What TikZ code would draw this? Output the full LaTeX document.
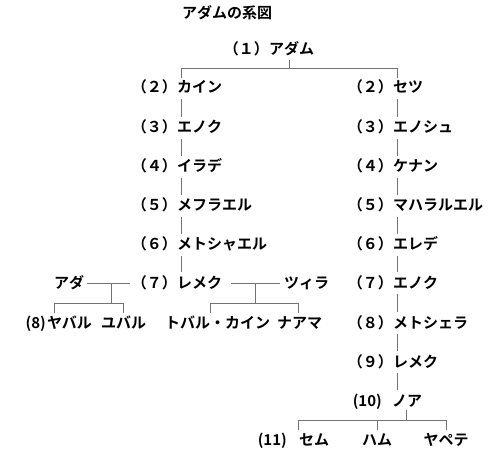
\documentclass[tikz,border=0pt]{standalone}
\usepackage{fontspec}
\newfontfamily\jpfont{Noto Sans CJK JP}[BoldFont={Noto Sans CJK JP Bold}]
\usetikzlibrary{positioning}
\tikzset{
  person/.style={font=\jpfont\bfseries\fontsize{15}{17}\selectfont,inner sep=0pt,
    text height=11pt,text depth=1pt,anchor=west},
  num/.style={person,anchor=east},
  link/.style={draw=black!55,line width=.9pt,shorten <=5pt,shorten >=5pt},
  drop/.style={draw=black!55,line width=.9pt,shorten >=4pt}
}
\begin{document}
\begin{tikzpicture}[x=1pt,y=-1pt]
\useasboundingbox (0,0) rectangle (500,470);
\node[person,anchor=center] (title) at (227,14) {アダムの系図};
% Adam
\node[person] (adam) at (269,50) {アダム};
\node[num,left=0pt of adam] {（１）};
\coordinate (colL) at (181,0);
\coordinate (colR) at (397,0);
\coordinate (t0) at (289,68);
\coordinate (t1) at (181,68);
\coordinate (t2) at (397,68);
% two columns
\foreach \i/\k/\name/\y in {2/２/カイン/88,3/３/エノク/128,4/４/イラデ/167,
    5/５/メフラエル/206,6/６/メトシャエル/245,7/７/レメク/283}{
  \node[person] (L\i) at (177,\y) {\name};
  \node[num,left=0pt of L\i] (nL\i) {（\k）};
}
\foreach \i/\k/\name/\y in {2/２/セツ/88,3/３/エノシュ/128,4/４/ケナン/167,
    5/５/マハラルエル/206,6/６/エレデ/245,7/７/エノク/283,8/８/メトシェラ/323,
    9/９/レメク/362}{
  \node[person] (R\i) at (393,\y) {\name};
  \node[num,left=0pt of R\i] {（\k）};
}
\node[person] (R10) at (392,401) {ノア};
\node[num,left=10pt of R10] {(10)};
\draw[link,shorten >=0pt,shorten <=4pt] (adam.south -| t0) -- (t0);
\draw[link,shorten <=0pt,shorten >=0pt] (t1) -- (t2);
\draw[drop] (t1) -- (L2.north -| colL);
\draw[drop] (t2) -- (R2.north -| colR);
\foreach \i in {2,...,6}{
  \pgfmathtruncatemacro\j{\i+1}
  \draw[link] (L\i.south -| colL) -- (L\j.north -| colL);
}
\foreach \i in {2,...,9}{
  \pgfmathtruncatemacro\j{\i+1}
  \draw[link] (R\i.south -| colR) -- (R\j.north -| colR);
}
% Lamech's wives and children
\node[person] (ada) at (54,283) {アダ};
\node[person] (zillah) at (284,283) {ツィラ};
\node[person] (jabal) at (47,323) {ヤバル};
\node[num,left=1pt of jabal] {(8)};
\node[person] (jubal) at (101,323) {ユバル};
\node[person] (tubal) at (165,323) {トバル・カイン};
\node[person] (naamah) at (277,323) {ナアマ};
\draw[link,shorten <=3pt,shorten >=2pt] (ada) -- (nL7);
\draw[link,shorten <=9pt,shorten >=4pt] (L7) -- (zillah);
\coordinate (a1) at (111,283);
\coordinate (a2) at (111,303);
\coordinate (a3) at (54,303);
\coordinate (a4) at (123,303);
\draw[drop,shorten >=0pt] (a1) -- (a2);
\draw[drop,shorten >=0pt] (a3) -- (a4);
\draw[drop] (a3) -- (a3 |- jabal.north);
\draw[drop] (a4) -- (a4 |- jubal.north);
\coordinate (z1) at (255,283);
\coordinate (z2) at (255,303);
\coordinate (z3) at (210,303);
\coordinate (z4) at (298,303);
\draw[drop,shorten >=0pt] (z1) -- (z2);
\draw[drop,shorten >=0pt] (z3) -- (z4);
\draw[drop] (z3) -- (z3 |- tubal.north);
\draw[drop] (z4) -- (z4 |- naamah.north);
% Noah's sons
\node[person] (shem) at (299,440) {セム};
\node[num,left=12pt of shem] {(11)};
\node[person,anchor=center] (ham) at (377,440) {ハム};
\node[person,anchor=center] (japheth) at (446,440) {ヤペテ};
\coordinate (s0) at (406,420);
\coordinate (s1) at (298,420);
\coordinate (s2) at (377,420);
\coordinate (s3) at (446,420);
\draw[drop,shorten >=0pt,shorten <=3pt] (R10.south -| s0) -- (s0);
\draw[drop,shorten >=0pt] (s1) -- (s3);
\draw[drop] (s1) -- (s1 |- shem.north);
\draw[drop] (s2) -- (ham.north);
\draw[drop] (s3) -- (japheth.north);
\end{tikzpicture}
\end{document}
